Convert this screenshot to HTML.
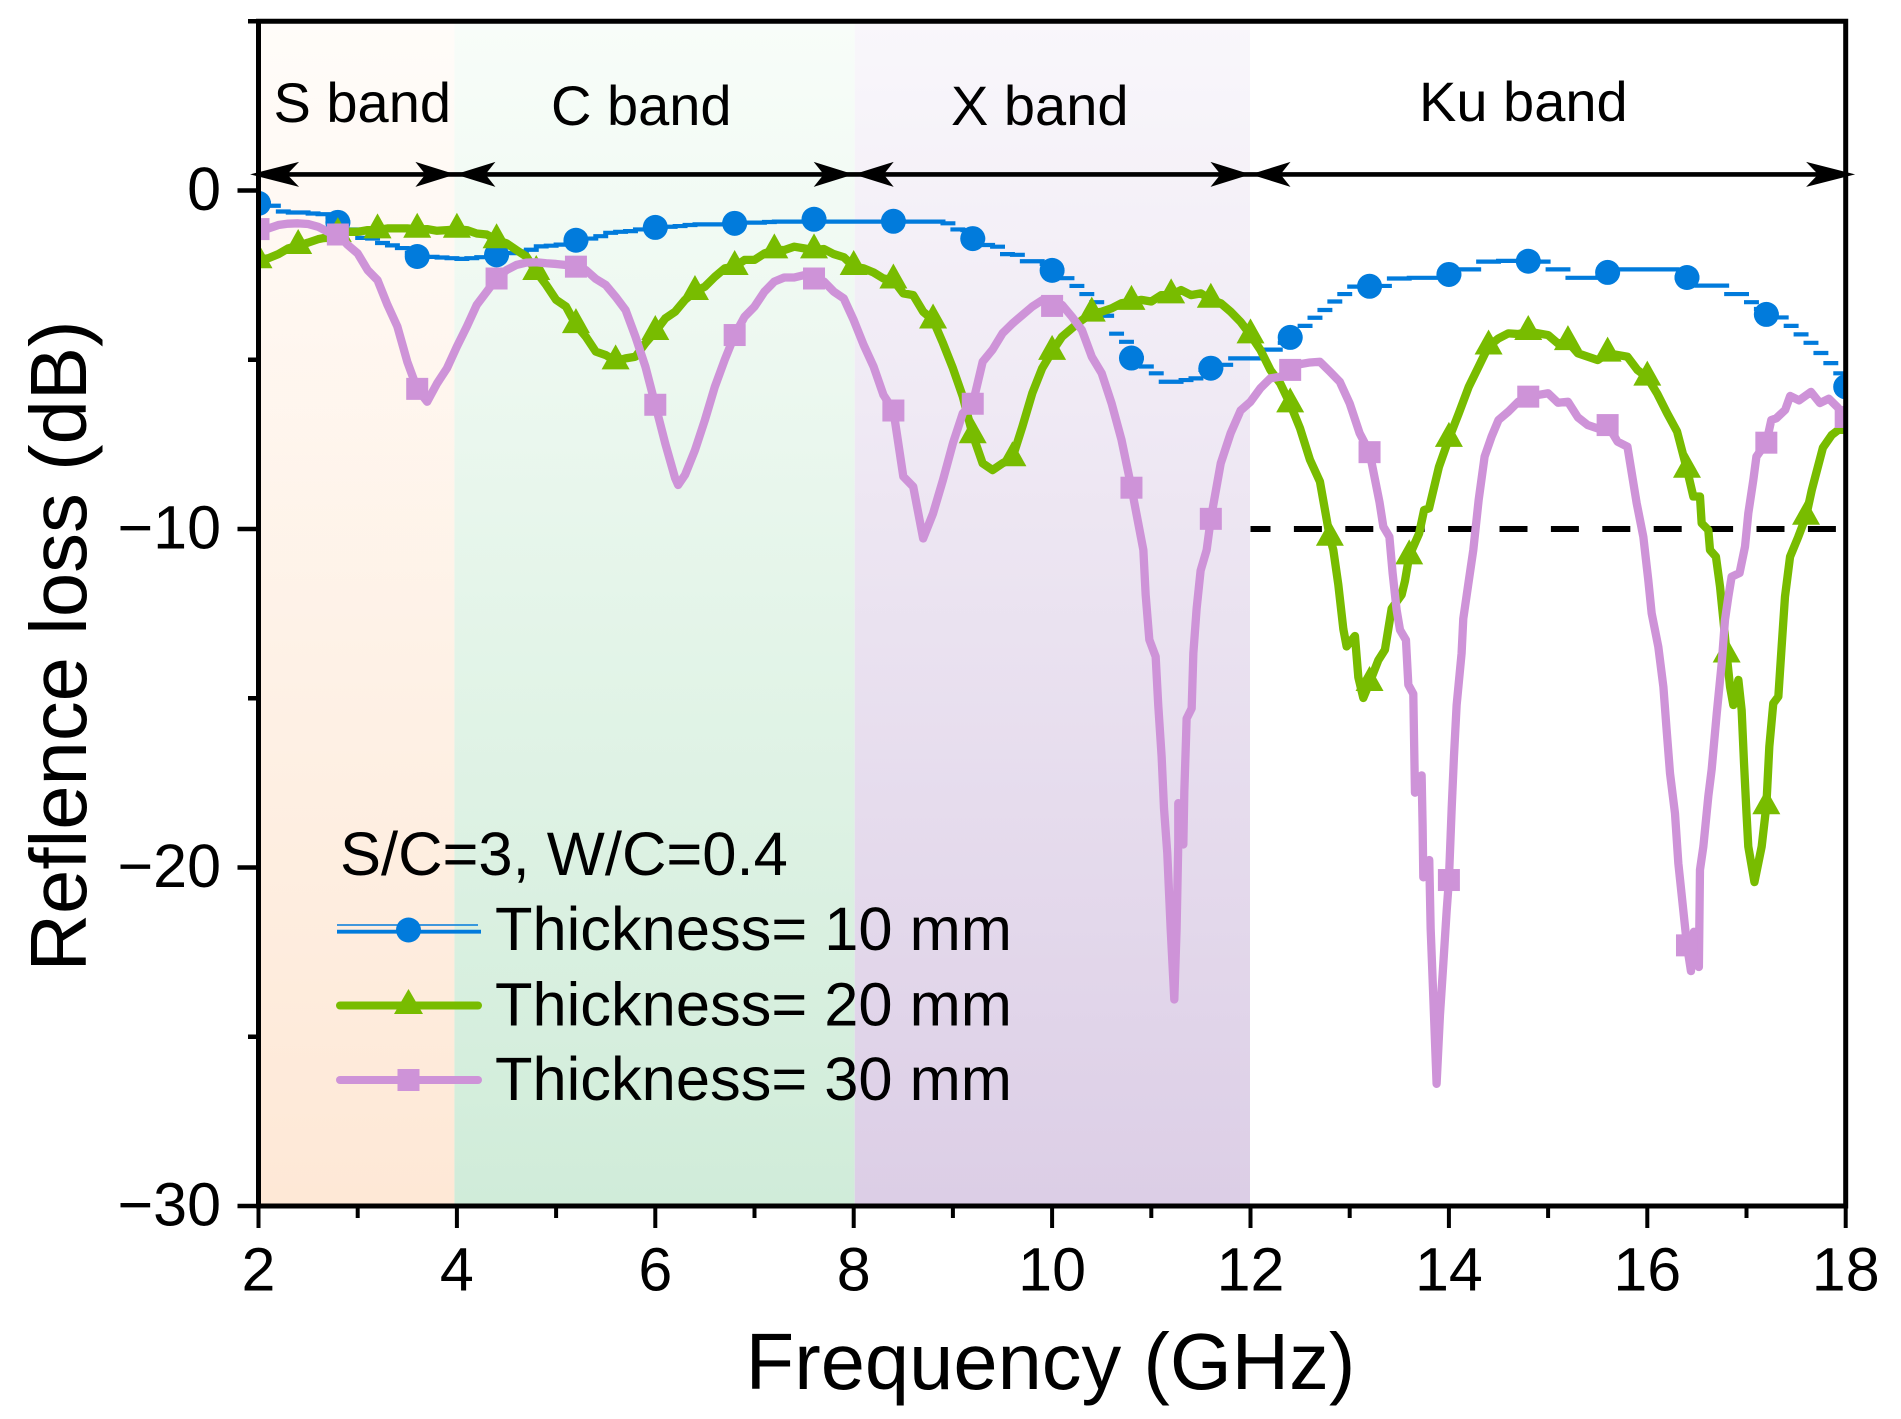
<!DOCTYPE html>
<html lang="en">
<head>
<meta charset="utf-8">
<title>Reflection loss vs frequency</title>
<style>
html,body{margin:0;padding:0;background:#fff;}
svg{display:block;}
text{font-family:"Liberation Sans",Arial,sans-serif;fill:#000;}
</style>
</head>
<body>
<svg id="chart" xmlns="http://www.w3.org/2000/svg" width="1901" height="1419" viewBox="0 0 1901 1419">
  <defs>
    <linearGradient id="grad-s" x1="0" y1="0" x2="0" y2="1"><stop offset="0" stop-color="#fffcf9"/><stop offset="1" stop-color="#fee8d6"/></linearGradient>
    <linearGradient id="grad-c" x1="0" y1="0" x2="0" y2="1"><stop offset="0" stop-color="#f8fdf9"/><stop offset="1" stop-color="#d0ecd9"/></linearGradient>
    <linearGradient id="grad-x" x1="0" y1="0" x2="0" y2="1"><stop offset="0" stop-color="#f9f7fb"/><stop offset="1" stop-color="#dccee6"/></linearGradient>
    <clipPath id="plot-clip"><rect x="258" y="21" width="1588" height="1185"/></clipPath>
  </defs>
  <g id="bands"></g>
  <g id="reference" clip-path="url(#plot-clip)"></g>
  <g id="series" clip-path="url(#plot-clip)"></g>
  <g id="axes"></g>
  <g id="arrows"></g>
  <text x="273.5" y="122" font-size="56">S band</text>
  <text x="551" y="125" font-size="56">C band</text>
  <text x="951" y="125" font-size="56">X band</text>
  <text x="1419" y="121" font-size="56">Ku band</text>
  <text x="1050.5" y="1389" font-size="79.5" text-anchor="middle">Frequency (GHz)</text>
  <text transform="translate(86 646) rotate(-90)" font-size="79.7" text-anchor="middle">Reflence loss (dB)</text>
  <g id="legend">
    <text x="340" y="875" font-size="61.5">S/C=3, W/C=0.4</text>
    <g>
      <line x1="337" x2="478" y1="925" y2="925" stroke="#017bdc" stroke-width="1.6"/>
      <line x1="337" x2="481" y1="931.7" y2="931.7" stroke="#017bdc" stroke-width="3.8"/>
      <circle cx="408.5" cy="930" r="12.5" fill="#017bdc"/>
      <text x="495" y="950" font-size="61.4">Thickness= 10 mm</text>
    </g>
    <g>
      <line x1="340" x2="478" y1="1005.5" y2="1005.5" stroke="#78bc00" stroke-width="8" stroke-linecap="round"/>
      <polygon points="408.5,989 394,1014 423,1014" fill="#78bc00"/>
      <text x="495" y="1025.4" font-size="61.4">Thickness= 20 mm</text>
    </g>
    <g>
      <line x1="340" x2="478" y1="1080" y2="1080" stroke="#ce93d8" stroke-width="8" stroke-linecap="round"/>
      <rect x="397.5" y="1069" width="22" height="22" fill="#ce93d8"/>
      <text x="495" y="1100" font-size="61.4">Thickness= 30 mm</text>
    </g>
  </g>
</svg>
<script>
var xTicks = [2,4,6,8,10,12,14,16,18];
var xMinorTicks = [3,5,7,9,11,13,15,17];
var yTicks = [0,-10,-20,-30];
var yMinorTicks = [5,-5,-15,-25];
var yTickLabels = ["0","\u221210","\u221220","\u221230"];
var bandEdges = [2,3.975,8.01,11.995];
var bandNames = ["s","c","x"];
var arrowEnds = [1.915,3.985,8.0,12.0,18.095];
var thresholdRange = [12,17.93];
var thresholdValue = [-10];

var freq10 = [2.0,2.1,2.2,2.3,2.4,2.5,2.6,2.7,2.8,2.9,3.0,3.1,3.2,3.3,3.4,3.5,3.6,3.7,3.8,3.9,4.0,4.1,4.2,4.3,4.4,4.5,4.6,4.7,4.8,4.9,5.0,5.1,5.2,5.3,5.4,5.5,5.6,5.7,5.8,5.9,6.0,6.1,6.2,6.3,6.4,6.5,6.6,6.7,6.8,6.9,7.0,7.1,7.2,7.3,7.4,7.5,7.6,7.7,7.8,7.9,8.0,8.1,8.2,8.3,8.4,8.5,8.6,8.7,8.8,8.9,9.0,9.1,9.2,9.3,9.4,9.5,9.6,9.7,9.8,9.9,10.0,10.1,10.2,10.3,10.4,10.5,10.6,10.7,10.8,10.9,11.0,11.1,11.2,11.3,11.4,11.5,11.6,11.7,11.8,11.9,12.0,12.1,12.2,12.3,12.4,12.5,12.6,12.7,12.8,12.9,13.0,13.1,13.2,13.3,13.4,13.5,13.6,13.7,13.8,13.9,14.0,14.1,14.2,14.3,14.4,14.5,14.6,14.7,14.8,14.9,15.0,15.1,15.2,15.3,15.4,15.5,15.6,15.7,15.8,15.9,16.0,16.1,16.2,16.3,16.4,16.5,16.6,16.7,16.8,16.9,17.0,17.1,17.2,17.3,17.4,17.5,17.6,17.7,17.8,17.9,18.0];
var loss10 = [-0.38,-0.45,-0.62,-0.65,-0.65,-0.68,-0.7,-0.8,-0.94,-1.15,-1.4,-1.42,-1.55,-1.62,-1.7,-1.84,-1.95,-1.96,-1.98,-2.0,-2.02,-2.0,-1.97,-1.93,-1.9,-1.85,-1.8,-1.75,-1.65,-1.63,-1.6,-1.55,-1.47,-1.42,-1.35,-1.25,-1.22,-1.2,-1.15,-1.12,-1.09,-1.07,-1.05,-1.02,-1.0,-1.0,-1.0,-0.98,-0.97,-0.95,-0.95,-0.93,-0.92,-0.92,-0.92,-0.92,-0.85,-0.92,-0.92,-0.92,-0.92,-0.92,-0.92,-0.92,-0.91,-0.92,-0.92,-0.92,-0.92,-0.97,-1.15,-1.17,-1.42,-1.61,-1.66,-1.88,-1.9,-2.09,-2.09,-2.17,-2.36,-2.59,-2.82,-3.06,-3.3,-3.7,-4.23,-4.47,-4.95,-5.2,-5.4,-5.65,-5.65,-5.6,-5.55,-5.3,-5.25,-5.15,-4.96,-4.96,-4.96,-4.7,-4.7,-4.5,-4.34,-4.0,-3.76,-3.53,-3.28,-3.06,-2.84,-2.84,-2.83,-2.82,-2.6,-2.6,-2.58,-2.58,-2.58,-2.57,-2.48,-2.33,-2.33,-2.1,-2.1,-2.08,-2.08,-2.08,-2.09,-2.1,-2.33,-2.33,-2.58,-2.58,-2.58,-2.57,-2.42,-2.33,-2.33,-2.33,-2.33,-2.33,-2.33,-2.57,-2.57,-2.81,-2.81,-2.81,-3.06,-3.06,-3.3,-3.5,-3.66,-3.75,-4.0,-4.25,-4.5,-4.8,-5.1,-5.4,-5.8];
var markers10 = [2,2.8,3.6,4.4,5.2,6,6.8,7.6,8.4,9.2,10,10.8,11.6,12.4,13.2,14,14.8,15.6,16.4,17.2,18];

var freq20 = [2.0,2.1,2.2,2.3,2.4,2.5,2.6,2.7,2.8,2.9,3.0,3.1,3.2,3.3,3.4,3.5,3.6,3.7,3.8,3.9,4.0,4.1,4.2,4.3,4.4,4.5,4.6,4.7,4.8,4.9,5.0,5.1,5.2,5.3,5.4,5.5,5.6,5.7,5.8,5.9,6.0,6.1,6.2,6.3,6.4,6.5,6.6,6.7,6.8,6.9,7.0,7.1,7.2,7.3,7.4,7.5,7.6,7.7,7.8,7.9,8.0,8.1,8.2,8.3,8.4,8.5,8.6,8.7,8.8,8.9,9.0,9.1,9.2,9.3,9.4,9.5,9.6,9.7,9.8,9.9,10.0,10.1,10.2,10.3,10.4,10.5,10.6,10.7,10.8,10.9,11.0,11.1,11.2,11.3,11.4,11.5,11.6,11.7,11.8,11.9,12.0,12.1,12.2,12.3,12.4,12.5,12.6,12.7,12.8,12.835,12.885,12.936,12.969,13.053,13.087,13.137,13.2,13.288,13.355,13.389,13.423,13.524,13.557,13.6,13.7,13.75,13.8,13.9,14.0,14.1,14.2,14.3,14.4,14.5,14.6,14.7,14.8,14.9,15.0,15.1,15.2,15.3,15.4,15.5,15.6,15.7,15.8,15.9,16.0,16.1,16.2,16.3,16.4,16.464,16.531,16.548,16.615,16.632,16.692,16.733,16.767,16.8,16.834,16.867,16.918,16.951,16.975,17.0,17.018,17.08,17.153,17.2,17.23,17.27,17.321,17.354,17.388,17.439,17.522,17.6,17.658,17.77,17.86,17.95,18.0];
var loss20 = [-2.05,-2.0,-1.88,-1.71,-1.63,-1.54,-1.44,-1.38,-1.28,-1.22,-1.22,-1.17,-1.17,-1.12,-1.12,-1.12,-1.15,-1.14,-1.19,-1.17,-1.15,-1.17,-1.27,-1.3,-1.46,-1.56,-1.76,-1.95,-2.4,-2.79,-3.23,-3.43,-3.97,-4.32,-4.76,-4.86,-5.04,-4.96,-4.91,-4.51,-4.17,-3.78,-3.58,-3.23,-2.99,-2.84,-2.55,-2.3,-2.25,-2.05,-2.05,-1.86,-1.76,-1.76,-1.66,-1.71,-1.76,-1.73,-1.88,-1.97,-2.25,-2.3,-2.42,-2.6,-2.65,-3.04,-3.09,-3.58,-3.83,-4.51,-5.25,-6.09,-7.22,-8.06,-8.26,-8.06,-7.9,-6.98,-5.99,-5.25,-4.76,-4.32,-4.07,-3.83,-3.63,-3.58,-3.48,-3.33,-3.28,-3.23,-3.28,-3.09,-3.09,-2.94,-3.09,-3.04,-3.22,-3.33,-3.58,-3.88,-4.27,-4.71,-5.3,-5.7,-6.31,-7.03,-7.96,-8.6,-10.25,-10.62,-11.64,-12.96,-13.47,-13.16,-14.38,-14.99,-14.54,-13.88,-13.57,-12.96,-12.35,-11.94,-11.54,-10.8,-10.13,-9.44,-9.39,-8.16,-7.33,-6.58,-5.8,-5.2,-4.6,-4.37,-4.22,-4.24,-4.17,-4.22,-4.27,-4.52,-4.47,-4.81,-4.91,-5.01,-4.81,-4.86,-4.91,-5.3,-5.52,-6.0,-6.58,-7.12,-8.24,-9.04,-9.04,-9.83,-10.03,-10.62,-10.82,-11.7,-12.69,-13.7,-14.66,-15.2,-14.46,-15.35,-16.92,-18.4,-19.38,-20.43,-19.38,-18.18,-16.43,-15.15,-14.95,-13.48,-12.0,-10.82,-10.23,-9.63,-8.85,-7.6,-7.22,-7.02,-6.95];
var markers20 = [2,2.4,2.8,3.2,3.6,4,4.4,4.8,5.2,5.6,6,6.4,6.8,7.2,7.6,8,8.4,8.8,9.2,9.6,10,10.4,10.8,11.2,11.6,12,12.4,12.8,13.2,13.6,14,14.4,14.8,15.2,15.6,16,16.4,16.8,17.2,17.6,18];

var freq30 = [2.0,2.1,2.2,2.3,2.4,2.5,2.6,2.7,2.8,2.9,3.0,3.1,3.2,3.3,3.4,3.5,3.6,3.7,3.8,3.9,4.0,4.1,4.2,4.3,4.4,4.5,4.6,4.7,4.8,4.9,5.0,5.1,5.2,5.3,5.4,5.5,5.6,5.7,5.8,5.9,6.0,6.1,6.2,6.23,6.3,6.4,6.5,6.6,6.7,6.8,6.9,7.0,7.1,7.2,7.3,7.4,7.5,7.6,7.7,7.8,7.9,8.0,8.1,8.2,8.3,8.4,8.5,8.6,8.7,8.8,8.9,9.0,9.1,9.2,9.3,9.4,9.5,9.6,9.7,9.8,9.9,10.0,10.1,10.2,10.3,10.4,10.5,10.6,10.7,10.8,10.92,10.943,10.98,11.044,11.07,11.104,11.128,11.161,11.195,11.232,11.255,11.272,11.272,11.323,11.333,11.35,11.356,11.407,11.424,11.457,11.497,11.558,11.6,11.7,11.8,11.9,12.0,12.1,12.2,12.3,12.4,12.5,12.6,12.7,12.8,12.9,13.0,13.1,13.2,13.3,13.339,13.4,13.433,13.473,13.507,13.567,13.591,13.641,13.658,13.725,13.735,13.742,13.802,13.816,13.843,13.876,13.91,13.944,13.977,14.0,14.028,14.051,14.078,14.128,14.145,14.195,14.246,14.3,14.36,14.43,14.5,14.6,14.7,14.8,14.9,15.0,15.1,15.2,15.3,15.4,15.5,15.6,15.7,15.8,15.893,15.96,16.01,16.044,16.111,16.162,16.195,16.229,16.279,16.313,16.4,16.44,16.47,16.52,16.531,16.565,16.615,16.649,16.7,16.75,16.783,16.817,16.85,16.93,16.985,17.018,17.069,17.1,17.2,17.25,17.3,17.39,17.44,17.53,17.65,17.74,17.83,17.92,18.0];
var loss30 = [-1.14,-1.12,-1.02,-0.98,-0.97,-0.99,-1.07,-1.22,-1.30,-1.61,-1.86,-2.35,-2.65,-3.38,-4.02,-5.06,-5.86,-6.24,-5.70,-5.25,-4.61,-4.02,-3.38,-2.99,-2.6,-2.35,-2.2,-2.13,-2.12,-2.15,-2.17,-2.2,-2.25,-2.35,-2.61,-2.79,-3.14,-3.53,-4.32,-5.2,-6.33,-7.47,-8.5,-8.7,-8.4,-7.67,-6.78,-5.8,-5.0,-4.27,-3.73,-3.43,-2.99,-2.69,-2.57,-2.57,-2.5,-2.6,-2.69,-2.99,-3.19,-3.83,-4.56,-5.2,-6.04,-6.5,-8.45,-8.75,-10.28,-9.54,-8.55,-7.47,-6.58,-6.3,-5.06,-4.7,-4.22,-3.93,-3.68,-3.43,-3.24,-3.41,-3.38,-3.73,-4.12,-4.91,-5.4,-6.29,-7.37,-8.78,-10.62,-11.94,-13.27,-13.77,-15.2,-16.72,-18.25,-19.57,-21.8,-23.9,-21.8,-19.27,-18.1,-19.32,-17.74,-16.2,-15.6,-15.3,-13.67,-12.35,-11.23,-10.62,-9.7,-8.06,-7.17,-6.5,-6.24,-5.84,-5.55,-5.5,-5.3,-5.13,-5.08,-5.06,-5.35,-5.65,-6.29,-7.17,-7.73,-9.2,-9.93,-10.23,-11.31,-12.39,-12.98,-13.28,-14.6,-14.87,-17.79,-17.28,-18.76,-20.29,-19.78,-21.8,-23.85,-26.39,-24.35,-22.83,-21.3,-20.37,-18.25,-16.72,-15.2,-13.67,-12.65,-11.64,-10.62,-9.14,-7.86,-7.27,-6.78,-6.53,-6.24,-6.09,-6.04,-5.99,-6.27,-6.24,-6.7,-6.93,-7.03,-6.93,-7.42,-7.57,-9.24,-10.23,-11.51,-12.49,-13.48,-14.66,-15.94,-17.22,-18.4,-19.88,-22.3,-23.06,-21.9,-22.94,-20.07,-19.38,-17.9,-17.1,-15.45,-13.97,-12.69,-12.0,-11.41,-11.3,-10.52,-9.54,-8.55,-7.86,-7.45,-6.78,-6.73,-6.48,-6.07,-6.2,-5.95,-6.28,-6.15,-6.41,-6.69];
var markers30 = [2,2.8,3.6,4.4,5.2,6,6.8,7.6,8.4,9.2,10,10.8,11.6,12.4,13.2,14,14.8,15.6,16.4,17.2,18];

var NS = "http://www.w3.org/2000/svg";
function xScale(f){ return 258.5 + (f - 2) * 99.2; }
function yScale(v){ return 190.5 - v * 33.85; }
function make(tag, attrs, parent){
  var el = document.createElementNS(NS, tag);
  for (var k in attrs) { el.setAttribute(k, attrs[k]); }
  parent.appendChild(el);
  return el;
}
function valueAt(fs, vs, f){
  for (var i = 0; i < fs.length - 1; i++) {
    if (f >= fs[i] - 1e-9 && f <= fs[i + 1] + 1e-9) {
      var span = fs[i + 1] - fs[i];
      if (span <= 0) { return vs[i]; }
      return vs[i] + (vs[i + 1] - vs[i]) * (f - fs[i]) / span;
    }
  }
  return vs[vs.length - 1];
}
function linePath(fs, vs){
  var d = "";
  for (var i = 0; i < fs.length; i++) {
    d += (i ? "L" : "M") + xScale(fs[i]).toFixed(2) + " " + yScale(vs[i]).toFixed(2);
  }
  return d;
}
function stairPath(fs, vs){
  var d = "";
  for (var i = 0; i < fs.length - 1; i++) {
    d += "M" + (xScale(fs[i]) - 2.5).toFixed(2) + " " + yScale(vs[i]).toFixed(2) + "H" + (xScale(fs[i + 1]) + 2.5).toFixed(2);
  }
  return d;
}

var bandsGroup = document.getElementById("bands");
var refGroup = document.getElementById("reference");
var seriesGroup = document.getElementById("series");
var axesGroup = document.getElementById("axes");
var arrowsGroup = document.getElementById("arrows");
var i, el;

for (i = 0; i < bandNames.length; i++) {
  el = make("rect", {x: xScale(bandEdges[i]), y: yScale(5), width: xScale(bandEdges[i + 1]) - xScale(bandEdges[i]), height: yScale(-30) - yScale(5), fill: "url(#grad-" + bandNames[i] + ")"}, bandsGroup);
  
  
}

el = make("line", {x1: xScale(thresholdRange[0]), x2: xScale(thresholdRange[1]), y1: yScale(thresholdValue[0]), y2: yScale(thresholdValue[0]), stroke: "#000", "stroke-width": 6, "stroke-dasharray": "28 23.4", "stroke-dashoffset": 8}, refGroup);



el = make("path", {d: stairPath(freq10, loss10), fill: "none", stroke: "#017bdc", "stroke-width": 4.2}, seriesGroup);


for (i = 0; i < markers10.length; i++) {
  el = make("circle", {cx: xScale(markers10[i]), cy: yScale(valueAt(freq10, loss10, markers10[i])), r: 12.5, fill: "#017bdc"}, seriesGroup);
  
  
}

el = make("path", {d: linePath(freq20, loss20), fill: "none", stroke: "#78bc00", "stroke-width": 8.3, "stroke-linejoin": "round", "stroke-linecap": "round"}, seriesGroup);


for (i = 0; i < markers20.length; i++) {
  var tx = xScale(markers20[i]);
  var ty = yScale(valueAt(freq20, loss20, markers20[i]));
  el = make("polygon", {points: tx + "," + (ty - 16.7) + " " + (tx - 14) + "," + (ty + 8.3) + " " + (tx + 14) + "," + (ty + 8.3), fill: "#78bc00"}, seriesGroup);
  
  
}

el = make("path", {d: linePath(freq30, loss30), fill: "none", stroke: "#ce93d8", "stroke-width": 8.3, "stroke-linejoin": "round", "stroke-linecap": "round"}, seriesGroup);


for (i = 0; i < markers30.length; i++) {
  el = make("rect", {x: xScale(markers30[i]) - 11, y: yScale(valueAt(freq30, loss30, markers30[i])) - 11, width: 22, height: 22, fill: "#ce93d8"}, seriesGroup);
  
  
}

el = make("rect", {x: xScale(2), y: yScale(5), width: xScale(18) - xScale(2), height: yScale(-30) - yScale(5), fill: "none", stroke: "#000", "stroke-width": 5}, axesGroup);



for (i = 0; i < xTicks.length; i++) {
  el = make("line", {x1: xScale(xTicks[i]), x2: xScale(xTicks[i]), y1: yScale(-30), y2: 1228, stroke: "#000", "stroke-width": 4}, axesGroup);
  
  
  el = make("text", {x: xScale(xTicks[i]), y: 1290.5, "font-size": 61, "text-anchor": "middle"}, axesGroup);
  el.textContent = String(xTicks[i]);
  
  
}
for (i = 0; i < xMinorTicks.length; i++) {
  el = make("line", {x1: xScale(xMinorTicks[i]), x2: xScale(xMinorTicks[i]), y1: yScale(-30), y2: 1218, stroke: "#000", "stroke-width": 4}, axesGroup);
  
  
}
for (i = 0; i < yTicks.length; i++) {
  el = make("line", {x1: 237.5, x2: xScale(2), y1: yScale(yTicks[i]), y2: yScale(yTicks[i]), stroke: "#000", "stroke-width": 4.5}, axesGroup);
  
  
  el = make("text", {x: 221, y: yScale(yTicks[i]) + 19.5, "font-size": 61, "text-anchor": "end"}, axesGroup);
  el.textContent = yTickLabels[i];
  
  
}
for (i = 0; i < yMinorTicks.length; i++) {
  el = make("line", {x1: 248, x2: xScale(2), y1: yScale(yMinorTicks[i]), y2: yScale(yMinorTicks[i]), stroke: "#000", "stroke-width": 4.5}, axesGroup);
  
  
}

var arrowY = 174.4;
el = make("line", {x1: xScale(arrowEnds[0]) + 20, x2: xScale(arrowEnds[arrowEnds.length - 1]) - 20, y1: arrowY, y2: arrowY, stroke: "#000", "stroke-width": 4.6}, arrowsGroup);


for (i = 0; i < arrowEnds.length; i++) {
  var tip = xScale(arrowEnds[i]);
  var outer = (i === 0 || i === arrowEnds.length - 1);
  var len = outer ? 49 : 40;
  var notch = outer ? 37 : 30;
  if (i < arrowEnds.length - 1) {
    el = make("polygon", {points: tip + "," + arrowY + " " + (tip + len) + "," + (arrowY - 12.5) + " " + (tip + notch) + "," + arrowY + " " + (tip + len) + "," + (arrowY + 12.5), fill: "#000"}, arrowsGroup);
    
    
  }
  if (i > 0) {
    el = make("polygon", {points: tip + "," + arrowY + " " + (tip - len) + "," + (arrowY - 12.5) + " " + (tip - notch) + "," + arrowY + " " + (tip - len) + "," + (arrowY + 12.5), fill: "#000"}, arrowsGroup);
    
    
  }
}
</script>
</body>
</html>
